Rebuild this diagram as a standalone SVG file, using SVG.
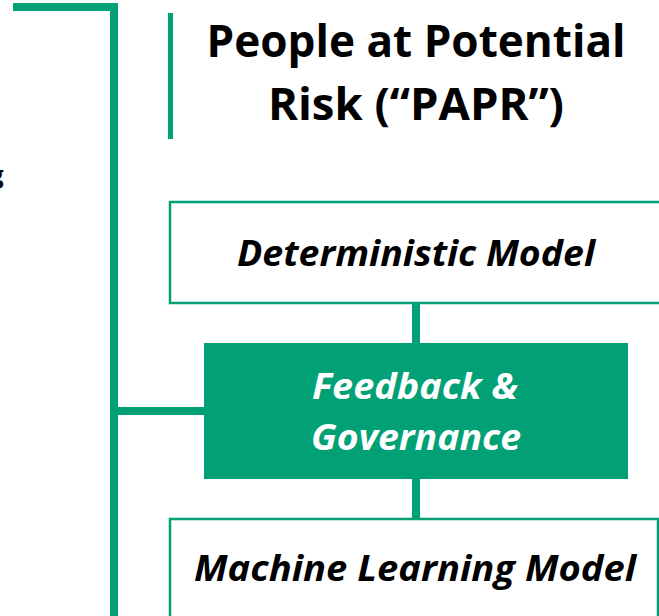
<svg xmlns="http://www.w3.org/2000/svg" width="659" height="616" viewBox="0 0 659 616">
<style>
text{font-family:"Open Sans","Noto Sans","Liberation Sans",sans-serif;font-weight:700;text-anchor:middle;fill:#000}
.t{font-size:45px}
.m{font-size:36px;font-style:italic}
.w{fill:#fff}
.box{fill:#fff;stroke:#02a175;stroke-width:2.5}
.ln{fill:none;stroke:#02a175}
</style>
<rect width="659" height="616" fill="#fff"/>
<g id="connectors">
<path class="ln" stroke-width="8" d="M13 7H114V616"/>
<path class="ln" stroke-width="8" d="M114 411H204"/>
<path class="ln" stroke-width="8" d="M416 303V343"/>
<path class="ln" stroke-width="8" d="M416 479V518"/>
</g>
<g id="title">
<rect x="168" y="13" width="5" height="126" fill="#02a175"/>
<text class="t" x="416" y="57" textLength="419" lengthAdjust="spacingAndGlyphs">People at Potential</text>
<text class="t" x="416" y="120" textLength="296" lengthAdjust="spacingAndGlyphs">Risk (“PAPR”)</text>
</g>
<g id="clipped-label"><text x="-10" y="183" style="font-size:24px;text-anchor:start">g</text></g>
<g id="deterministic">
<rect class="box" x="170" y="202" width="491" height="101"/>
<text class="m" x="416" y="266" textLength="358" lengthAdjust="spacingAndGlyphs">Deterministic Model</text>
</g>
<g id="feedback">
<rect x="204" y="343" width="424" height="136" fill="#02a175"/>
<text class="m w" x="415" y="399" textLength="206" lengthAdjust="spacingAndGlyphs">Feedback &amp;</text>
<text class="m w" x="416" y="450" textLength="210" lengthAdjust="spacingAndGlyphs">Governance</text>
</g>
<g id="ml">
<rect class="box" x="170" y="519" width="488" height="99"/>
<text class="m" x="415" y="581" textLength="442" lengthAdjust="spacingAndGlyphs">Machine Learning Model</text>
</g>
</svg>
